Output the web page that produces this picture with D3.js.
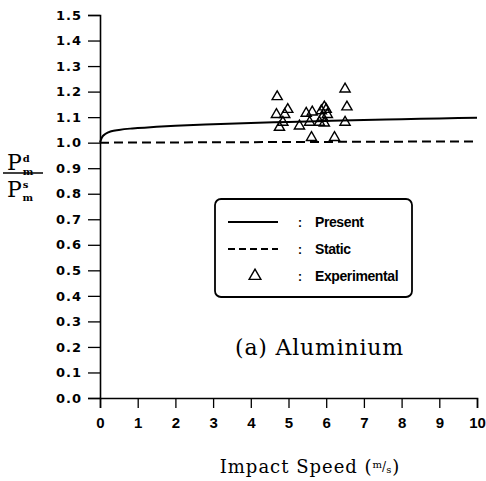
<!DOCTYPE html>
<html>
<head>
<meta charset="utf-8">
<script src="https://cdn.jsdelivr.net/npm/d3@7"></script>
<style>
  body { margin: 0; background: #fff; }
  svg { display: block; }
</style>
</head>
<body>
<div id="chart"></div>
<script>
// curves
const presentX = [0, 0.05, 0.15, 0.3, 0.5, 0.8, 1, 1.5, 2, 3, 4, 5, 6, 7, 8, 9, 10];
const presentY = [1.0, 1.02, 1.035, 1.045, 1.05, 1.055, 1.057, 1.062, 1.066, 1.072, 1.077, 1.081, 1.085, 1.089, 1.092, 1.095, 1.098];
const staticX = [0, 10];
const staticY = [1.0, 1.005];

// experimental points
const expX = [4.7, 6.5, 6.55, 4.98, 4.68, 4.9, 4.85, 4.76, 5.29, 5.47, 5.63, 5.56, 5.87, 5.95, 6.0, 5.9, 6.03, 5.82, 5.95, 6.5, 5.61, 6.22];
const expY = [1.18, 1.21, 1.14, 1.13, 1.11, 1.11, 1.08, 1.06, 1.065, 1.115, 1.12, 1.08, 1.125, 1.14, 1.13, 1.10, 1.11, 1.08, 1.077, 1.08, 1.02, 1.02];

const xTicks = d3.range(0, 11, 1);
const yTicks = d3.range(0, 16, 1).map(d => d / 10);

const width = 486, height = 481;

const svg = d3.select("#chart").append("svg")
  .attr("width", width)
  .attr("height", height);

const x = d3.scaleLinear().domain([0, 10]).range([100, 477]);
const y = d3.scaleLinear().domain([0, 1.5]).range([398, 15]);

// axes
const xAxis = svg.append("g")
  .attr("transform", `translate(0,${y(0)})`)
  .call(d3.axisBottom(x).tickValues(xTicks).tickSize(10).tickPadding(9).tickFormat(d3.format("d")));
const yAxis = svg.append("g")
  .attr("transform", `translate(${x(0)},0)`)
  .call(d3.axisLeft(y).tickValues(yTicks).tickSize(12).tickPadding(6).tickFormat(d3.format(".1f")));

[xAxis, yAxis].forEach(a => {
  a.select(".domain").attr("stroke", "#000").attr("stroke-width", 1.6);
  a.selectAll(".tick line").attr("stroke", "#000").attr("stroke-width", 1.3);
  a.selectAll(".tick text").attr("fill", "#000").attr("font-weight", "bold");
});
xAxis.selectAll(".tick text")
  .attr("font-family", "Liberation Sans Narrow, Liberation Sans, Arial, sans-serif")
  .attr("font-size", "15px");
yAxis.selectAll(".tick text")
  .attr("font-family", "DejaVu Sans, sans-serif")
  .attr("font-size", "13px")
  .attr("letter-spacing", "1px");

// lines
const line = d3.line().x(d => x(d[0])).y(d => y(d[1])).curve(d3.curveMonotoneX);

svg.append("path")
  .datum(d3.zip(presentX, presentY))
  .attr("d", line)
  .attr("fill", "none")
  .attr("stroke", "#000")
  .attr("stroke-width", 2);

svg.append("path")
  .datum(d3.zip(staticX, staticY))
  .attr("d", line)
  .attr("fill", "none")
  .attr("stroke", "#000")
  .attr("stroke-width", 2)
  .attr("stroke-dasharray", "9,5");

// triangles
const tri = d3.symbol().type(d3.symbolTriangle).size(45);
svg.append("g")
  .selectAll("path")
  .data(d3.zip(expX, expY))
  .join("path")
  .attr("d", tri)
  .attr("transform", d => `translate(${x(d[0])},${y(d[1])})`)
  .attr("fill", "none")
  .attr("stroke", "#000")
  .attr("stroke-width", 1.4);

// legend
const legend = svg.append("g");
legend.append("rect")
  .attr("x", 215).attr("y", 199)
  .attr("width", 197).attr("height", 98)
  .attr("rx", 6)
  .attr("fill", "none")
  .attr("stroke", "#000")
  .attr("stroke-width", 1.8);

const legItems = [
  {label: "Present", y: 222, kind: "solid"},
  {label: "Static", y: 249, kind: "dash"},
  {label: "Experimental", y: 276, kind: "tri"}
];
legItems.forEach(it => {
  if (it.kind === "tri") {
    legend.append("path")
      .attr("d", d3.symbol().type(d3.symbolTriangle).size(60)())
      .attr("transform", `translate(255,${it.y})`)
      .attr("fill", "none").attr("stroke", "#000").attr("stroke-width", 1.4);
  } else {
    legend.append("line")
      .attr("x1", 228).attr("x2", 278)
      .attr("y1", it.y).attr("y2", it.y)
      .attr("stroke", "#000").attr("stroke-width", 2)
      .attr("stroke-dasharray", it.kind === "dash" ? "7,4" : null);
  }
  legend.append("text")
    .attr("x", 298).attr("y", it.y + 5)
    .attr("font-family", "Liberation Sans, Arial, sans-serif")
    .attr("font-weight", "bold")
    .attr("font-size", "12px")
    .text(":");
  legend.append("text")
    .attr("x", 315).attr("y", it.y + 5)
    .attr("font-family", "Liberation Sans Narrow, Liberation Sans, Arial, sans-serif")
    .attr("font-weight", "bold")
    .attr("font-size", "14px")
    .attr("letter-spacing", "-0.4px")
    .text(it.label);
});

// panel label
svg.append("text")
  .attr("x", 235).attr("y", 355)
  .attr("font-family", "DejaVu Serif, Liberation Serif, serif")
  .attr("font-size", "22px")
  .attr("letter-spacing", "0.8px")
  .text("(a) Aluminium");

// x title
const xt = svg.append("text")
  .attr("x", 310).attr("y", 473)
  .attr("text-anchor", "middle")
  .attr("font-family", "DejaVu Serif, Liberation Serif, serif")
  .attr("font-size", "18px")
  .attr("letter-spacing", "1px");
xt.append("tspan").text("Impact Speed (");
xt.append("tspan").attr("font-size", "10px").attr("dy", -5).attr("letter-spacing", "0px").text("m");
xt.append("tspan").attr("font-size", "12px").attr("dy", 3).attr("letter-spacing", "0px").text("/");
xt.append("tspan").attr("font-size", "10px").attr("dy", 2).text("s");
xt.append("tspan").attr("dy", 0).text(")");

// y title as a fraction
const yl = svg.append("g").attr("font-family", "DejaVu Serif, Liberation Serif, serif");
const num = yl.append("text").attr("x", 7).attr("y", 170).attr("font-size", "22px");
num.append("tspan").text("P");
num.append("tspan").attr("font-size", "10px").attr("font-weight", "bold").attr("dx", 1).attr("dy", -8).text("d");
num.append("tspan").attr("font-size", "10px").attr("font-weight", "bold").attr("dx", -7).attr("dy", 13).text("m");
yl.append("line")
  .attr("x1", 3).attr("x2", 43)
  .attr("y1", 173).attr("y2", 173)
  .attr("stroke", "#000").attr("stroke-width", 1.5);
const den = yl.append("text").attr("x", 7).attr("y", 197).attr("font-size", "22px");
den.append("tspan").text("P");
den.append("tspan").attr("font-size", "10px").attr("font-weight", "bold").attr("dx", 1).attr("dy", -9).text("s");
den.append("tspan").attr("font-size", "10px").attr("font-weight", "bold").attr("dx", -6).attr("dy", 13).text("m");
</script>
</body>
</html>
